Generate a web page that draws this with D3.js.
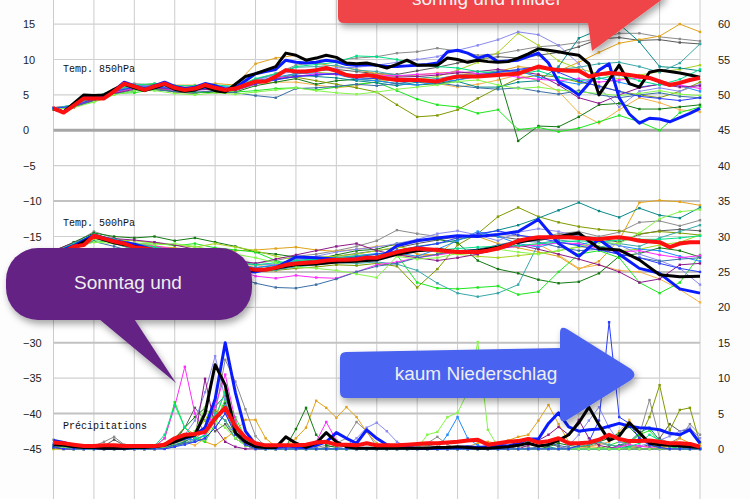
<!DOCTYPE html>
<html>
<head>
<meta charset="utf-8">
<script src="https://cdn.jsdelivr.net/npm/d3@7/dist/d3.min.js"></script>
<style>
  html, body { margin: 0; padding: 0; background: #fdfdfd; }
  svg { display: block; }
</style>
</head>
<body>
<div id="chart"></div>
<script>
// ---------- data ----------
var leftTicks = [15, 10, 5, 0, -5, -10, -15, -20, -25, -30, -35, -40, -45]
var rightTicks = [60, 55, 50, 45, 40, 35, 30, 25, 20, 15, 10, 5, 0]
var forecastHours = 384
var panelLabels = ["Temp. 850hPa", "Temp. 500hPa", "Précipitations"]
var notes = ["sonnig und milder", "Sonntag und", "kaum Niederschlag"]

var memberColors = ["#8c8c8c", "#5a5a5a", "#e1a21a", "#f2b24a", "#137a13", "#1ee61e",
  "#7f9a00", "#a6d41e", "#0b8a8a", "#3aa8a8", "#1e8cff", "#8a8af0", "#ff2aff",
  "#8b1a8b", "#3b6fa8", "#00e088", "#86f54a", "#2a3cff"]

// 850 hPa, 6-hourly
var t850Mean = [3.1,2.5,3.5,4.5,4.5,4.5,5.5,6.6,6.2,5.7,
  6.2,6.6,6.0,5.7,5.9,6.4,6.0,5.7,5.9,6.4,
  6.9,6.9,7.6,8.5,8.3,8.3,8.5,8.8,8.4,7.8,
  7.6,7.8,7.6,7.3,7.1,7.1,7.1,7.0,6.9,7.3,
  7.6,7.6,7.6,7.7,7.8,7.9,8.0,8.5,9.0,8.7,
  8.5,8.4,8.4,7.6,7.9,8.1,8.0,7.8,7.6,7.4,
  6.9,6.4,6.7,7.1,7.4]
var t850Ctrl = [3.0,2.6,3.8,5.0,4.9,5.0,5.8,6.5,6.0,5.6,
  6.0,6.5,5.8,5.5,5.7,6.2,5.6,5.4,6.5,7.6,
  8.0,8.5,9.0,10.9,10.6,9.9,10.2,10.6,10.3,9.5,
  9.4,9.5,9.2,8.8,9.3,9.9,9.2,9.2,9.2,10.2,
  10.0,9.6,9.9,9.7,9.6,9.7,10.2,10.8,11.5,11.3,
  11.1,10.8,10.6,9.4,5.0,7.1,9.2,6.6,6.1,8.2,
  8.5,8.3,8.1,7.8,7.5]
var t850Oper = [3.1,2.6,3.7,4.7,4.6,4.6,5.6,6.8,6.3,5.8,
  6.3,6.8,6.2,5.9,6.1,6.6,6.3,5.8,6.0,7.0,
  8.0,8.3,8.6,9.9,9.6,9.5,9.6,9.9,9.7,9.3,
  9.2,9.3,9.2,9.0,9.0,9.1,9.2,9.3,9.5,11.1,
  11.3,10.9,10.2,10.6,9.7,9.8,9.9,10.4,10.9,9.5,
  6.8,6.0,5.0,6.6,8.5,9.4,4.6,2.3,1.0,1.7,
  1.6,1.2,1.8,2.4,3.1]
// 850 hPa members, 12-hourly
var t850Members = [
  [3.1,3.4,4.7,5.7,6.6,6.4,5.8,5.6,6.2,5.7,7.2, 8.0,9.2,9.6,9.9,10.2,10.4,10.9,11.1,11.6,11.2,10.6, 10.8,11.3,11.8,12.0,12.4,13.0,13.7,13.7,13.2,12.9,12.6],
  [3.0,3.2,4.4,5.3,6.0,5.9,5.4,5.2,5.7,5.6,6.5, 7.2,8.1,8.4,8.6,8.3,8.0,7.9,8.4,8.9,9.5,10.0, 10.4,10.2,10.6,11.0,11.8,12.9,13.1,12.7,12.8,12.4,12.2],
  [3.2,3.4,4.3,5.8,6.3,6.6,6.2,6.3,6.6,6.4,9.4, 10.2,10.6,9.5,9.0,8.6,8.0,7.6,7.8,8.1,8.2,7.9, 8.3,9.0,8.7,8.4,9.6,11.0,12.3,12.8,13.3,15.0,13.9],
  [3.0,3.6,4.4,5.6,6.0,6.0,6.4,6.4,6.1,6.0,6.6, 6.8,6.8,6.4,6.0,6.3,6.9,7.3,7.0,6.6,6.1,6.5, 7.1,7.8,7.0,5.5,2.5,1.0,2.9,4.6,3.9,2.9,2.6],
  [3.1,3.3,4.2,5.2,5.6,5.8,5.5,5.4,5.3,5.4,6.3, 6.8,7.3,6.5,7.0,7.2,7.0,6.6,6.4,6.6,7.1,7.8, 8.1,-1.5,0.6,0.5,1.9,3.6,3.8,3.0,3.0,3.3,3.6],
  [3.2,3.5,4.0,5.2,5.3,5.8,5.6,5.3,5.5,5.4,5.6, 5.9,6.0,5.7,6.1,6.5,6.8,5.6,4.4,3.6,3.3,2.4, 2.9,0.1,0.4,-0.2,0.3,1.2,2.1,1.2,0.0,2.5,3.3],
  [3.0,3.4,4.8,5.5,6.2,6.5,6.0,5.8,6.0,5.6,7.0, 7.3,7.5,7.0,6.5,6.0,5.4,3.6,1.9,2.1,2.9,4.5, 6.0,7.3,7.8,7.5,6.8,6.3,5.5,5.0,4.6,5.5,6.8],
  [3.1,3.5,4.5,5.4,6.1,6.1,5.9,5.8,6.1,6.0,6.8, 7.4,8.0,8.2,8.0,7.5,7.2,7.0,7.2,7.6,8.5,9.6, 11.0,13.7,12.0,9.8,8.7,8.0,7.2,7.8,8.3,8.6,9.2],
  [3.0,3.3,4.4,5.4,6.1,6.0,5.8,5.7,5.9,5.8,6.9, 7.3,7.8,7.6,7.4,7.0,6.7,6.3,6.8,6.5,6.9,6.1, 6.1,6.8,7.0,9.0,13.0,14.2,15.0,12.5,9.0,8.8,8.4],
  [3.1,3.5,4.6,5.6,6.3,6.2,6.0,5.9,6.1,6.0,7.2, 7.9,8.9,9.0,9.2,8.5,8.3,7.8,7.6,7.3,7.8,8.0, 8.4,8.5,8.8,8.6,8.9,9.4,9.6,9.0,8.2,9.5,12.2],
  [3.1,3.4,4.5,5.4,6.2,6.3,6.1,6.0,6.2,6.1,7.0, 7.5,8.0,8.1,7.9,7.2,7.0,6.6,6.4,6.8,7.1,7.6, 8.2,8.4,7.5,7.0,6.5,7.4,6.8,6.1,6.5,6.3,5.5],
  [3.1,3.6,4.6,5.5,6.2,6.3,6.0,5.8,6.1,6.0,7.1, 7.8,8.4,8.6,8.8,8.9,9.2,9.6,10.0,10.4,11.3,12.0, 12.8,13.9,13.5,12.0,9.4,6.0,3.3,5.5,6.0,5.5,6.5],
  [3.2,3.5,4.2,5.3,5.9,6.0,5.6,5.7,5.8,5.7,6.5, 7.4,7.6,8.0,7.9,7.8,7.8,7.7,7.9,8.0,8.3,8.0, 7.9,7.5,7.2,7.0,7.3,6.8,7.1,7.4,7.0,6.4,5.9],
  [3.0,3.2,4.3,5.2,5.8,5.9,5.8,5.7,5.8,5.7,6.6, 7.2,7.6,7.8,8.0,7.8,7.6,7.5,7.6,7.8,8.1,8.3, 8.6,8.3,7.9,6.4,4.6,3.8,5.0,6.0,6.5,6.1,6.3],
  [3.0,3.3,4.2,5.1,5.6,5.7,5.5,5.4,5.5,5.3,4.9, 4.6,5.9,6.0,6.2,6.5,6.3,6.6,7.0,6.7,6.3,6.0, 5.8,6.0,5.5,5.1,5.6,5.0,4.6,5.0,5.3,4.8,4.6],
  [3.1,3.6,4.7,5.7,6.4,6.6,6.3,6.3,6.4,6.2,7.3, 8.0,9.0,9.3,9.6,10.5,10.4,10.0,9.3,9.0,8.8,8.3, 8.1,7.9,8.4,7.5,7.0,7.3,7.8,7.0,6.4,7.2,8.6],
  [3.0,3.2,4.0,5.0,5.6,5.6,5.2,5.0,5.3,5.1,5.4, 5.7,6.0,5.6,5.3,5.1,5.4,5.8,6.1,6.4,6.9,7.1, 6.4,5.9,6.1,5.7,5.4,5.2,4.9,5.2,5.6,5.1,4.9],
  [3.1,3.4,4.5,5.5,6.1,6.1,5.9,5.8,6.0,5.8,6.6, 7.1,7.6,7.8,8.0,7.4,7.3,7.0,6.9,7.1,7.5,7.8, 8.2,8.6,9.0,8.2,7.0,6.2,5.5,4.8,4.5,4.2,4.6]
]

// 500 hPa
var t500Mean = [-17.6,-17.2,-16.4,-16.2,-14.9,-15.3,-15.7,-16.0,-16.5,-16.7,
  -16.9,-17.1,-17.4,-17.7,-18.0,-18.3,-18.6,-18.9,-19.2,-19.5,
  -19.7,-19.7,-19.4,-19.0,-18.8,-18.7,-18.6,-18.4,-18.3,-18.3,
  -18.2,-18.0,-18.0,-17.6,-17.2,-16.9,-16.7,-16.8,-16.9,-17.1,
  -17.2,-17.2,-17.2,-17.0,-16.7,-16.2,-15.6,-15.3,-15.1,-15.1,
  -15.1,-15.1,-15.2,-15.3,-15.4,-15.2,-15.1,-15.3,-15.6,-15.7,
  -15.8,-16.5,-16.0,-15.8,-15.8]
var t500Ctrl = [-17.5,-16.5,-15.0,-15.9,-16.4,-17.0,-17.6,-18.2,-18.8,-19.4,-19.8,
  -19.5,-19.0,-18.9,-18.6,-18.5,-18.3,-17.5,-17.0,-16.8,-17.2,-17.0,
  -16.5,-15.8,-15.3,-15.0,-14.5,-16.7,-16.9,-18.3,-20.4,-20.7,-20.6]
var t500Oper = [-17.4,-16.3,-14.8,-15.6,-16.1,-16.9,-17.8,-18.6,-19.3,-19.8,-20.0,
  -19.4,-17.9,-18.0,-18.2,-18.3,-18.3,-16.3,-15.6,-15.2,-14.9,-15.0,
  -14.7,-14.3,-12.6,-16.0,-17.8,-15.4,-17.5,-19.5,-20.2,-22.4,-23.0]
var t500Members = [
  [-17.2,-16.0,-14.3,-15.2,-16.0,-16.4,-16.9,-17.4,-17.8,-18.3,-18.8, -18.4,-17.8,-17.5,-17.0,-16.4,-15.6,-14.1,-14.6,-15.0,-15.3,-15.0, -14.7,-14.9,-15.2,-14.6,-14.3,-15.0,-14.4,-13.0,-12.8,-13.5,-12.7],
  [-17.4,-16.2,-14.6,-15.5,-16.3,-16.8,-17.3,-17.8,-18.4,-19.0,-19.6, -19.4,-18.8,-18.2,-17.8,-17.4,-17.0,-16.6,-16.0,-15.5,-15.0,-14.8, -15.0,-15.4,-15.6,-15.0,-14.8,-15.3,-15.8,-14.7,-14.2,-14.0,-14.2],
  [-17.0,-15.9,-15.0,-15.6,-16.1,-16.4,-16.6,-16.9,-17.2,-17.0,-16.9, -16.7,-16.5,-16.9,-17.1,-16.8,-16.4,-16.2,-17.5,-17.6,-15.3,-15.0, -16.0,-16.6,-17.2,-17.8,-19.6,-18.5,-15.5,-10.2,-9.9,-10.1,-10.6],
  [-17.3,-16.3,-15.3,-15.8,-16.4,-16.7,-17.1,-17.6,-18.2,-18.7,-19.1, -18.9,-18.5,-18.3,-18.0,-17.7,-17.5,-17.6,-17.8,-17.5,-17.3,-17.0, -16.6,-16.4,-16.1,-17.6,-19.5,-19.0,-19.8,-20.0,-21.0,-22.5,-24.3],
  [-17.1,-15.8,-14.5,-15.0,-15.2,-15.0,-15.6,-15.2,-15.8,-16.4,-17.2, -17.5,-17.9,-18.2,-17.6,-17.0,-16.8,-16.0,-15.6,-15.4,-15.9,-18.4, -19.6,-20.2,-21.1,-21.6,-21.4,-20.2,-17.8,-17.4,-16.6,-17.0,-17.9],
  [-17.6,-16.5,-15.6,-15.8,-16.0,-15.9,-16.3,-16.0,-16.6,-16.9,-17.2, -18.4,-19.2,-18.8,-18.4,-18.5,-18.0,-17.6,-21.5,-22.3,-22.4,-22.2, -22.0,-23.2,-22.8,-20.0,-17.5,-17.0,-18.0,-21.5,-23.0,-21.5,-17.6],
  [-17.8,-16.6,-15.2,-16.0,-16.8,-17.2,-17.8,-18.4,-19.0,-19.6,-20.0, -19.8,-19.5,-19.3,-19.0,-19.1,-18.8,-19.2,-22.2,-19.6,-16.2,-14.6, -12.2,-10.9,-12.2,-13.0,-13.6,-14.0,-14.2,-14.6,-14.3,-14.5,-14.8],
  [-17.5,-16.4,-15.3,-15.5,-15.6,-15.9,-16.2,-16.5,-16.0,-16.5,-17.0, -17.8,-18.3,-17.9,-17.8,-17.5,-17.0,-16.5,-16.8,-17.2,-17.5,-17.8, -18.0,-17.7,-17.4,-17.0,-16.5,-16.4,-17.0,-16.8,-16.2,-15.8,-14.8],
  [-17.3,-16.1,-14.8,-15.6,-16.4,-16.8,-17.3,-17.9,-18.5,-19.0,-19.4, -19.1,-18.6,-18.3,-18.2,-17.9,-17.8,-17.0,-16.4,-16.0,-15.5,-14.8, -14.1,-13.4,-12.4,-11.3,-10.2,-11.4,-12.3,-11.0,-12.0,-12.4,-10.9],
  [-17.6,-16.5,-15.2,-16.0,-16.8,-17.2,-17.7,-18.3,-18.9,-19.5,-20.0, -19.7,-19.3,-19.0,-18.7,-18.8,-18.6,-18.9,-19.8,-21.6,-23.0,-23.5, -23.0,-21.8,-16.0,-15.5,-15.8,-16.5,-16.0,-16.4,-15.2,-14.3,-13.4],
  [-17.3,-16.2,-14.9,-15.8,-16.6,-17.0,-17.4,-18.0,-18.6,-19.1,-19.4, -19.0,-18.4,-18.1,-18.0,-17.7,-17.4,-17.3,-17.8,-16.8,-15.6,-14.3, -15.0,-16.0,-16.5,-15.8,-16.2,-15.5,-16.3,-16.8,-17.0,-17.8,-18.5],
  [-17.5,-16.3,-15.0,-15.6,-16.2,-16.6,-17.0,-17.6,-18.0,-18.5,-19.0, -18.9,-18.3,-17.8,-17.2,-16.8,-16.5,-16.0,-15.4,-14.6,-14.2,-14.8, -15.6,-14.4,-13.9,-14.3,-15.0,-15.8,-16.2,-17.5,-18.4,-19.5,-21.8],
  [-17.4,-16.3,-15.1,-15.5,-15.9,-16.3,-16.8,-17.6,-18.6,-19.6,-20.6, -20.9,-20.5,-20.8,-20.9,-20.0,-19.0,-18.6,-18.0,-17.6,-17.2,-16.9, -16.7,-16.4,-16.2,-15.9,-16.0,-16.7,-17.2,-17.0,-17.6,-18.0,-17.7],
  [-17.0,-15.9,-14.9,-15.3,-15.5,-15.8,-16.2,-16.8,-17.6,-18.4,-18.8, -18.2,-17.6,-17.0,-16.4,-16.0,-17.0,-17.6,-18.0,-18.4,-18.0,-17.5, -16.8,-16.2,-16.8,-17.5,-18.2,-19.0,-20.0,-21.5,-21.0,-19.0,-18.8],
  [-17.8,-16.8,-15.7,-16.4,-17.2,-17.8,-18.4,-19.0,-19.8,-20.6,-21.6, -22.2,-22.3,-21.8,-21.0,-20.0,-19.2,-18.8,-18.0,-17.5,-17.0,-16.8, -16.2,-15.6,-15.8,-16.5,-17.0,-16.8,-17.5,-18.0,-18.5,-18.2,-18.0],
  [-17.2,-16.0,-14.7,-15.4,-16.0,-16.5,-17.0,-17.5,-18.0,-18.6,-19.0, -18.7,-18.4,-18.2,-18.0,-17.8,-17.5,-17.2,-17.0,-16.9,-16.7,-16.5, -16.4,-16.3,-16.0,-15.8,-15.6,-15.8,-15.5,-15.4,-15.4,-15.2,-14.9],
  [-17.7,-16.6,-15.8,-16.0,-15.9,-16.2,-16.0,-16.4,-17.0,-17.5,-18.0, -18.7,-19.3,-19.5,-19.8,-20.3,-20.8,-17.8,-18.2,-18.0,-17.4,-17.0, -16.8,-17.2,-17.5,-17.0,-16.4,-15.8,-16.0,-14.5,-12.5,-11.5,-11.2],
  [-17.4,-16.3,-15.0,-15.7,-16.5,-16.9,-17.4,-18.0,-18.6,-19.2,-19.6, -19.4,-18.9,-18.5,-18.2,-17.9,-17.5,-17.0,-16.5,-16.0,-15.2,-14.6, -14.2,-14.8,-15.2,-15.8,-16.3,-16.9,-17.5,-18.0,-18.8,-19.5,-20.0]
]

// precipitation (mm / 6h), 6-hourly, right axis
var rrMean = [0.9,0.8,0.6,0.4,0.4,0.5,0.5,0.4,0.4,0.4,
  0.4,0.6,1.5,2.0,2.1,2.4,4.3,5.8,3.2,1.6,
  0.8,0.5,0.5,0.5,0.5,0.6,0.9,1.0,0.6,0.6,
  0.5,0.8,0.5,0.5,0.5,0.6,0.7,0.8,0.8,0.9,
  1.0,1.2,1.3,0.6,0.8,1.0,1.1,1.4,0.9,1.1,
  1.5,0.8,0.8,0.9,1.3,2.0,1.4,1.1,1.1,1.2,
  1.0,0.8,0.8,0.7,0.3]
var rrCtrl = [0.6,0.5,0.3,0.2,0.2,0.1,0.1,0.1,0.2,0.2,
  0.3,0.5,1.0,1.6,2.0,5.0,11.9,9.0,2.3,1.0,
  0.3,0.2,0.2,1.7,0.8,0.2,0.8,2.3,1.0,0.3,
  0.1,0.1,0.1,0.1,0.1,0.1,0.1,0.1,0.2,0.2,
  0.3,0.2,0.1,0.1,0.2,0.3,0.5,0.8,0.4,0.6,
  1.2,2.0,3.7,5.9,3.4,1.2,1.8,3.7,2.3,0.8,
  0.6,0.5,0.4,0.3,0.2]
var rrOper = [1.2,0.9,0.5,0.3,0.2,0.1,0.1,0.1,0.2,0.3,
  0.4,0.6,1.0,1.5,2.0,3.0,7.0,15.0,8.0,2.5,
  0.6,0.3,0.2,0.4,0.3,0.2,0.5,1.0,2.3,1.5,
  0.8,2.7,1.5,0.6,0.3,0.2,0.1,0.1,0.1,0.2,
  0.2,0.3,0.2,0.3,0.5,0.4,0.8,1.4,1.4,3.6,
  5.1,3.1,2.5,2.7,2.8,3.2,3.6,3.2,3.0,2.9,
  2.7,2.2,2.0,2.7,0.8]
var rrMembers = [
  [1.3,0.8,0.3,0.2,0.4,1.0,1.7,0.6,0.2,0,0,0.2,0.5, 0.8,1.5,2.5,5.0,12.6,9.5,5.6,1.8,0.3,0,0,0,0, 0.2,0.5,0.8,1.5,3.8,2.5,0.3,0,0,0,0.2,0.8,1.7, 0.6,0,0,0,0,0,0.3,0.5,0.2,0,0,0,0, 0,0.3,0.8,0.5,0.4,1.0,2.0,6.9,1.5,0.8,1.6,3.5,2.0],
  [0.5,0.3,0.2,0,0,0.4,1.3,0.5,0,0,0,0.3,1.0, 3.0,5.8,4.0,2.5,3.5,1.5,0.5,0,0,0,0,0,0, 0,0.2,0.5,0.3,0,0,0,0,0,0.3,0.6,0.5,0.3, 0,0,0,0,0,0,0,0.4,1.0,1.2,0.8,0.3,0, 0,0,0,0,0.5,0.3,0.2,0.6,1.5,3.5,2.5,2.8,1.0],
  [0,0,0,0,0,0,0,0,0,0,0,0.5,1.5, 3.0,2.0,1.0,0.5,1.5,2.5,4.1,4.1,1.5,0.3,0.5,1.5,3.0, 6.8,5.8,4.4,5.9,4.5,2.4,0.8,0.2,0,0,0,0,0, 0,0,0.3,0.8,1.0,0.8,1.2,1.7,2.0,4.0,6.2,3.5,1.0, 0.5,0.3,0.2,0,0,0.2,0.4,0.3,0.2,0.4,1.5,0.8,0.3],
  [0,0,0,0,0,0,0,0,0,0,0.3,0.8,1.5, 1.0,0.5,1.5,4.0,8.3,4.0,1.0,0.2,0,0,0,0,0, 0,0,0,0,0,0,0,0,0,0.2,0.5,0.3,0, 0,0,0,0,0,0,0,0,0,0,0,0,0, 0.2,0.3,0.6,1.0,2.5,4.1,2.0,0.8,0.3,0.2,0.5,0.8,0.4],
  [0.3,0.2,0,0,0,0,0,0,0,0,0.2,0.6,1.5, 3.0,4.5,5.8,4.0,6.5,3.0,1.0,0.2,0,0,0.3,2.8,5.8, 2.0,0.5,0.2,0,0,0,0,0,0,0,0,0,0, 0,0,0,0,0,0,0,0,0,0,0.3,0.8,0.5, 0.3,0.5,1.0,1.5,2.2,3.1,1.6,0.6,0.2,0,0,0,0],
  [0.3,0.2,0.2,0.1,0,0,0.3,0.5,0.2,0,0.3,1.5,6.6, 3.0,1.5,1.0,3.5,7.0,4.5,1.5,0.4,0,0,0,0,0, 0,0,0,0,0,0,0,0,0,0,0,0,0, 0,0,0,0,0,0,0,0,0,0,0,0,0, 0,0,0,0.5,1.0,0.8,2.0,2.6,1.0,0.3,0,0,0],
  [0.2,0,0,0,0,0,0,0,0,0,0,0.2,0.5, 1.0,2.0,3.0,5.5,4.0,2.0,0.5,0,0,0,0,0,0, 0,0,0,0,0,0,0,0,0,0,0,0,0, 0,0,0,0,0,0,0,0,0,0,0,0,0, 0,0,0,0,0.3,0.8,1.5,4.5,9.0,2.6,5.5,5.8,0.8],
  [0,0,0,0,0,0,0,0,0,0,0,0.3,0.8, 1.2,2.5,4.0,7.0,5.5,2.0,0.5,0,0,0,0,0,0, 0,0,0,0,0,0,0,0,0,0,0,0,0, 0,0,0,0,0,0,0,0,0,0,0,0,0, 0,0,0,0,0,0,0,0,0,0,0,0,0],
  [0.4,0.3,0,0,0,0,0,0,0,0,0,0.2,0.6, 1.0,1.8,3.0,6.0,7.5,3.5,1.0,0.2,0,0,0,0,0, 0,0,0,0,0,0,0,0,0,0,0,0,0, 0,0,0,0,0,0,0.3,0.6,1.2,0.8,0.3,0,0, 0,0,0,0,0.5,1.0,2.3,3.0,1.2,0.5,0.3,0,0],
  [0.2,0,0,0,0,0,0,0,0,0,0,0,0.3, 0.8,1.2,2.0,5.0,4.0,1.5,0.5,0,0,0,0,0,0, 0,0,0,0,0,0,0,0,0,0,0,0,0, 0,0,0,0,0,0,0,0,0,0,0,0,0, 0.3,0.6,1.0,0.6,0.3,0,0,0,0,0,0,0,0],
  [0.3,0.2,0,0,0,0,0,0,0,0,0,0.3,1.0, 1.5,1.2,2.0,4.0,6.0,3.0,1.2,0.4,0,0,0,0,0, 0,0,0,0,0,0,0,0,0,0,0,0,0, 2.0,4.5,1.5,0.5,0,0,0,0,0,0,0,0,0, 0,0,0,0,0,0,0,0,0,0,0,0,0],
  [0.8,0.5,0.2,0,0,0,0,0,0,0,0.2,0.5,1.0, 2.0,4.0,8.0,13.1,7.0,2.5,0.8,0.2,0,0,0,0,0, 0,0,0,0.5,1.5,3.0,3.7,2.5,1.0,0.3,0,0,0, 0,0,0,0,0,0,0,0,0,0,0,0,0.5, 2.0,4.0,5.9,3.0,1.0,0.5,0.4,0.8,1.2,1.8,2.5,3.0,1.5],
  [0.4,0.2,0,0,0,0,0,0,0,0,0.3,1.5,6.0, 11.6,5.0,2.0,6.0,10.5,4.0,0.8,0,0,0,0,0,0, 1.0,3.8,1.2,0.3,0,0,0,0,0,0,0,0,0, 0,0,0,0,0,0,0,0,0,0,0,0,0, 0,0,0,0,0.3,0.6,0.4,0.2,0,0,0,0,0],
  [0.2,0,0,0,0,0,0,0,0,0,0,0.3,1.0, 2.0,1.5,9.9,3.0,1.0,0.3,0,0,0,0,0,0,0, 0,0,0,0,0,0,0,0,0,0,0,0,0, 0,0,0,0,0,0,0,0,0.5,1.2,2.0,3.1,2.0, 4.1,1.5,0.5,0.2,0,0,0,0,0,0,0,0,0],
  [0.5,0.4,0.2,0,0,0,0,0,0,0,0,0.2,0.5, 0.8,1.0,1.5,3.0,5.0,2.5,1.0,0.3,0,0,0,0,0, 0,0,0,0,0,0,0,0,0,0,0,0,0, 0,0,0,0,0,0,0,0,0,0.3,0.8,0.5,0.2, 0,0,0,0,0,0,0,0,0,0,0,0,0],
  [0.3,0.2,0,0,0,0,0,0,0,0,0.4,2.0,6.2, 3.0,1.5,1.8,4.5,8.0,3.5,1.0,0.2,0,0,0,0,0, 0,0,0,0,0,0,0,0,0,0,0,0,0, 0,0,0,0,0,0,0,0,0,0,0,0,0, 0,0,0,0,0,0.3,0.8,2.0,1.2,0.4,0,0,0],
  [0.3,0.2,0,0,0,0,0,0,0,0,0,0.3,0.8, 1.5,2.5,5.8,4.0,3.0,1.5,0.5,0,0,0,0,0,0, 0,0,0,0,0,0,0,0,0,0,0,2.0,2.4, 4.5,5.1,8.0,15.1,2.7,0.3,0,0,0,0,0,0,0, 0,0,0,0,0,0,0,0,0,0,0,0,0],
  [0.3,0,0,0,0,0,0,0,0,0,0,0,0.3, 0.6,1.0,1.5,3.0,5.0,2.0,0.6,0,0,0,0,0,0, 0,0,0,0,0,0,0,0,0,0,0,0,0, 0,0,0,0,0,0,0,0,0,0,0,0,0, 0.5,1.0,4.0,17.9,4.5,3.6,1.5,0.5,0.2,0,0,0,0]
]

// ---------- chart ----------
var width = 750
var height = 499

var svg = d3.select("#chart").append("svg")
  .attr("width", width)
  .attr("height", height)
  .style("font-family", "'Liberation Sans', Arial, sans-serif")

var x = d3.scaleLinear().domain([0, forecastHours]).range([53.5, 700])
var yLeft = d3.scaleLinear().domain([-45, 15]).range([448.9, 24.1])
var yRight = d3.scaleLinear().domain([0, 60]).range([448.9, 24.1])

svg.append("rect")
  .attr("x", 53.5).attr("y", 0)
  .attr("width", 700 - 53.5).attr("height", height)
  .attr("fill", "#ffffff")

// grid
var grid = svg.append("g").attr("class", "grid")
grid.selectAll("line.v")
  .data(d3.range(0, forecastHours + 1, 24))
  .enter().append("line")
  .attr("class", "v")
  .attr("x1", function(d) { return x(d) })
  .attr("x2", function(d) { return x(d) })
  .attr("y1", 0).attr("y2", height)
  .attr("stroke", "#cccccc")
  .attr("stroke-width", 1)

grid.selectAll("line.h")
  .data(leftTicks)
  .enter().append("line")
  .attr("class", "h")
  .attr("x1", 53.5).attr("x2", 700)
  .attr("y1", function(d) { return yLeft(d) })
  .attr("y2", function(d) { return yLeft(d) })
  .attr("stroke", function(d) {
    if (d === 0) return "#a6a6a6"
    return d % 10 === 0 && d < 0 ? "#c2c2c2" : "#d0d0d0"
  })
  .attr("stroke-width", function(d) {
    if (d === 0) return 3
    return d % 10 === 0 && d < 0 ? 2 : 1.2
  })

// axes (labels only)
var fmt = d3.format("d")
var leftAxis = svg.append("g")
  .attr("transform", "translate(23,0)")
  .call(d3.axisRight(yLeft).tickValues(leftTicks).tickSize(0).tickPadding(0).tickFormat(fmt))
var rightAxis = svg.append("g")
  .attr("transform", "translate(718,0)")
  .call(d3.axisRight(yRight).tickValues(rightTicks).tickSize(0).tickPadding(0).tickFormat(fmt))
svg.selectAll(".domain").remove()
svg.selectAll(".tick text")
  .attr("font-size", 11)
  .attr("font-family", "'Liberation Sans', Arial, sans-serif")
  .attr("fill", "#222")

// panel labels
var labelY = [72, 225.5, 429]
svg.selectAll("text.plabel")
  .data(panelLabels)
  .enter().append("text")
  .attr("class", "plabel")
  .attr("x", 63)
  .attr("y", function(d, i) { return labelY[i] })
  .attr("font-family", "'Liberation Mono', 'DejaVu Sans Mono', monospace")
  .attr("font-size", 10)
  .attr("fill", "#111")
  .text(function(d) { return d })

function toPoints(arr) {
  var step = forecastHours / (arr.length - 1)
  return arr.map(function(v, i) { return [i * step, v] })
}

var panels = [
  { members: t850Members, ctrl: t850Ctrl, oper: t850Oper, mean: t850Mean, y: yLeft },
  { members: t500Members, ctrl: t500Ctrl, oper: t500Oper, mean: t500Mean, y: yLeft },
  { members: rrMembers, ctrl: rrCtrl, oper: rrOper, mean: rrMean, y: yRight }
]

var lines = svg.append("g").attr("class", "series")

panels.forEach(function(p) {
  var line = d3.line()
    .x(function(d) { return x(d[0]) })
    .y(function(d) { return p.y(d[1]) })

  var members = lines.append("g")
  p.members.forEach(function(m, k) {
    var pts = toPoints(m)
    members.append("path")
      .attr("d", line(pts))
      .attr("fill", "none")
      .attr("stroke", memberColors[k])
      .attr("stroke-width", 1)
    members.selectAll("rect.m" + k)
      .data(pts)
      .enter().append("rect")
      .attr("class", "m" + k)
      .attr("x", function(d) { return x(d[0]) - 1.2 })
      .attr("y", function(d) { return p.y(d[1]) - 1.2 })
      .attr("width", 2.4).attr("height", 2.4)
      .attr("fill", memberColors[k])
  })

  lines.append("path")
    .attr("d", line(toPoints(p.oper)))
    .attr("fill", "none")
    .attr("stroke", "#0a1cff")
    .attr("stroke-width", 3)
    .attr("stroke-linejoin", "round")
  lines.append("path")
    .attr("d", line(toPoints(p.ctrl)))
    .attr("fill", "none")
    .attr("stroke", "#000000")
    .attr("stroke-width", 3)
    .attr("stroke-linejoin", "round")
  lines.append("path")
    .attr("d", line(toPoints(p.mean)))
    .attr("fill", "none")
    .attr("stroke", "#ff1010")
    .attr("stroke-width", 4)
    .attr("stroke-linejoin", "round")
})

// ---------- annotations ----------
var defs = svg.append("defs")
var shadow = defs.append("filter").attr("id", "shadow")
  .attr("x", "-20%").attr("y", "-20%").attr("width", "140%").attr("height", "160%")
shadow.append("feDropShadow")
  .attr("dx", 2).attr("dy", 4).attr("stdDeviation", 3.5)
  .attr("flood-color", "#000").attr("flood-opacity", 0.35)

var noteFont = "'Liberation Sans', Arial, sans-serif"

// red box (top)
var red = svg.append("g").attr("filter", "url(#shadow)")
red.append("path")
  .attr("d", "M338,-10 L338,17 Q338,23 344,23 L588,23 L592,51 L664,-2 L664,-10 Z")
  .attr("fill", "#ef4549")
svg.append("text")
  .attr("x", 487).attr("y", 5)
  .attr("text-anchor", "middle")
  .attr("font-family", noteFont).attr("font-size", 19)
  .attr("fill", "#f4f4f4")
  .text(notes[0])

// purple speech bubble
var bubble = svg.append("g").attr("filter", "url(#shadow)")
bubble.append("rect")
  .attr("x", 6).attr("y", 248).attr("width", 246).attr("height", 72)
  .attr("rx", 32).attr("ry", 32)
  .attr("fill", "#632384")
bubble.append("path")
  .attr("d", "M93,314 L176,383 L131,314 Z")
  .attr("fill", "#632384")
svg.append("text")
  .attr("x", 128).attr("y", 289)
  .attr("text-anchor", "middle")
  .attr("font-family", noteFont).attr("font-size", 19)
  .attr("fill", "#eeeeee")
  .text(notes[1])

// blue arrow
var arrow = svg.append("g").attr("filter", "url(#shadow)")
arrow.append("path")
  .attr("d", "M346,352 L560,348 L560,333 Q560,325 567,329 L631,369 Q638,375 631,380 L567,420 Q560,424 560,416 L560,398 L346,398 Q340,398 340,392 L340,358 Q340,352 346,352 Z")
  .attr("fill", "#4a62ef")
svg.append("text")
  .attr("x", 476).attr("y", 380)
  .attr("text-anchor", "middle")
  .attr("font-family", noteFont).attr("font-size", 19)
  .attr("fill", "#eeeeee")
  .text(notes[2])
</script>
</body>
</html>
